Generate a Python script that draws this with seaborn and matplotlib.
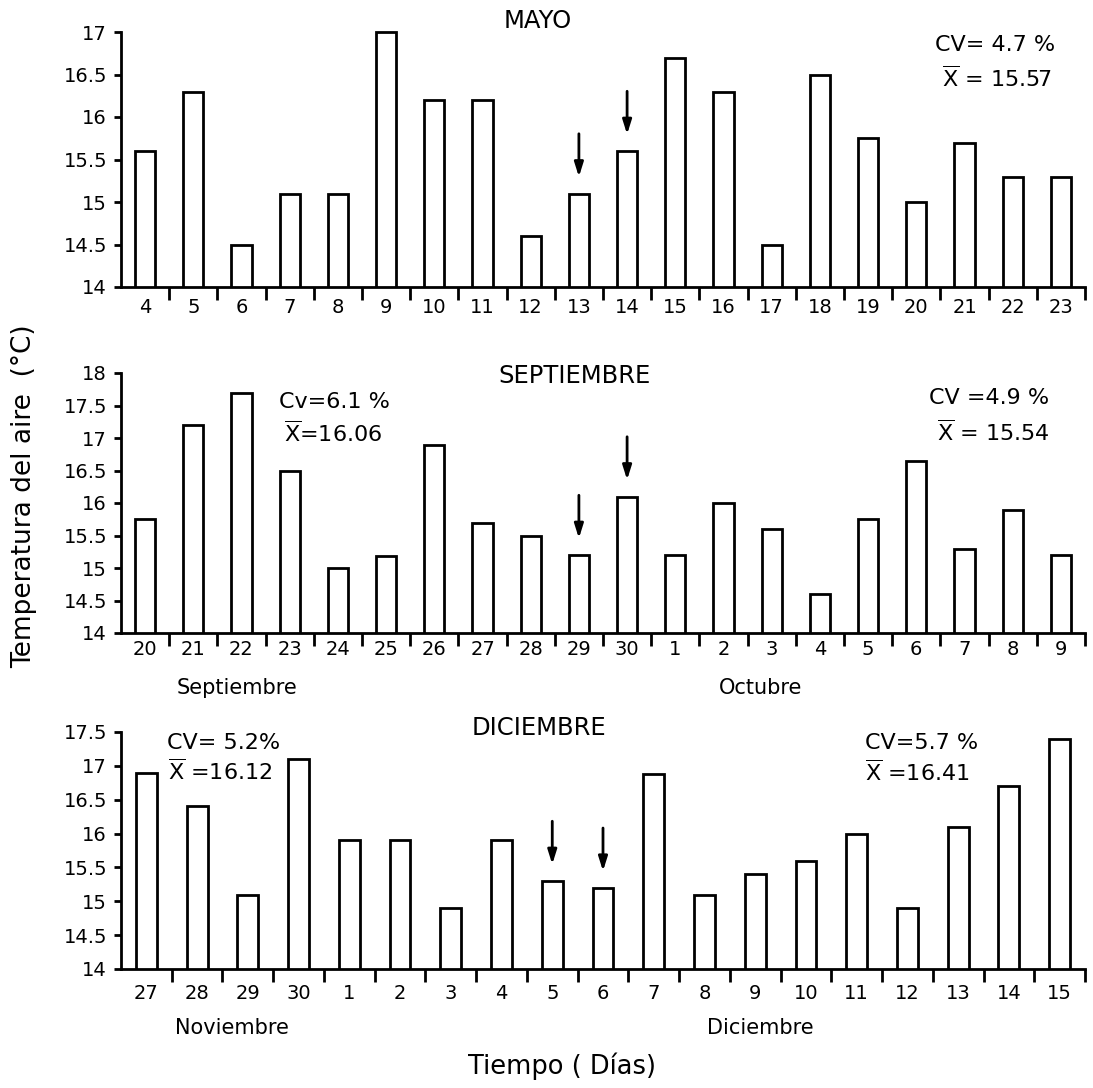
import matplotlib
matplotlib.use("Agg")
import matplotlib.pyplot as plt
from matplotlib.ticker import FixedLocator
import seaborn as sns
import pandas as pd

sns.set_theme(style="ticks")
plt.rcParams['font.family'] = ['DejaVu Sans']
plt.rcParams['mathtext.fontset'] = 'dejavusans'
plt.rcParams['text.color'] = 'black'
plt.rcParams['xtick.color'] = 'black'
plt.rcParams['ytick.color'] = 'black'
plt.rcParams['axes.edgecolor'] = 'black'

# ---------------- data ----------------
mayo_days = ["4", "5", "6", "7", "8", "9", "10", "11", "12", "13",
             "14", "15", "16", "17", "18", "19", "20", "21", "22", "23"]
mayo_temp = [15.6, 16.3, 14.5, 15.1, 15.1, 17.0, 16.2, 16.2, 14.6, 15.1,
             15.6, 16.7, 16.3, 14.5, 16.5, 15.75, 15.0, 15.7, 15.3, 15.3]
mayo_arrows = ["13", "14"]
mayo_yticks = [14, 14.5, 15, 15.5, 16, 16.5, 17]
mayo_yticklabels = ["14", "14.5", "15", "15.5", "16", "16.5", "17"]

sep_days = ["20", "21", "22", "23", "24", "25", "26", "27", "28", "29",
            "30", "1", "2", "3", "4", "5", "6", "7", "8", "9"]
sep_temp = [15.75, 17.2, 17.7, 16.5, 15.0, 15.18, 16.9, 15.7, 15.5, 15.2,
            16.1, 15.2, 16.0, 15.6, 14.6, 15.75, 16.65, 15.3, 15.9, 15.2]
sep_arrows = ["29", "30"]
sep_yticks = [14, 14.5, 15, 15.5, 16, 16.5, 17, 17.5, 18]
sep_yticklabels = ["14", "14.5", "15", "15.5", "16", "16.5", "17", "17.5", "18"]

dic_days = ["27", "28", "29", "30", "1", "2", "3", "4", "5", "6",
            "7", "8", "9", "10", "11", "12", "13", "14", "15"]
dic_temp = [16.9, 16.4, 15.1, 17.1, 15.9, 15.9, 14.9, 15.9, 15.3, 15.2,
            16.88, 15.1, 15.4, 15.6, 16.0, 14.9, 16.1, 16.7, 17.4]
dic_arrows = ["5", "6"]
dic_yticks = [14, 14.5, 15, 15.5, 16, 16.5, 17, 17.5]
dic_yticklabels = ["14", "14.5", "15", "15.5", "16", "16.5", "17", "17.5"]

titles = ["MAYO", "SEPTIEMBRE", "DICIEMBRE"]
stats_left = [None, ("Cv=6.1 %", r"$\overline{\mathrm{X}}$=16.06"),
              ("CV= 5.2%", r"$\overline{\mathrm{X}}$ =16.12")]
stats_right = [("CV= 4.7 %", r"$\overline{\mathrm{X}}$ = 15.57"),
               ("CV =4.9 %", r"$\overline{\mathrm{X}}$ = 15.54"),
               ("CV=5.7 %", r"$\overline{\mathrm{X}}$ =16.41")]
month_labels = [[], [("Septiembre", 237), ("Octubre", 761)],
                [("Noviembre", 232), ("Diciembre", 760)]]

# ---------------- layout (pixels) ----------------
W, H = 1093, 1088
fig = plt.figure(figsize=(W / 100, H / 100), dpi=100)

def fx(x):
    return x / W

def fy(y):
    return 1 - y / H

panels = [
    dict(days=mayo_days, temp=mayo_temp, arrows=mayo_arrows, yt=mayo_yticks,
         ytl=mayo_yticklabels, base=287, top=32, width=0.42, xpad=8,
         title_xy=(538, 21), sl=None, sr=[(995, 45), (997, 78)],
         month_y=None),
    dict(days=sep_days, temp=sep_temp, arrows=sep_arrows, yt=sep_yticks,
         ytl=sep_yticklabels, base=633, top=373, width=0.42, xpad=5,
         title_xy=(575, 376), sl=[(334, 402), (333, 433)],
         sr=[(989, 398), (993, 432)], month_y=688),
    dict(days=dic_days, temp=dic_temp, arrows=dic_arrows, yt=dic_yticks,
         ytl=dic_yticklabels, base=969, top=732, width=0.41, xpad=11,
         title_xy=(539, 728), sl=[(224, 743), (220, 771)],
         sr=[(922, 743), (917, 772)], month_y=1028),
]

LEFT, RIGHT = 121, 1085
LW = 2.0
FS = 14

for k, p in enumerate(panels):
    ylo, yhi = p["yt"][0], p["yt"][-1]
    extra = 0.06
    px_per = (p["base"] - p["top"]) / (yhi - ylo)
    top_px = p["top"] - extra * px_per
    ax = fig.add_axes([fx(LEFT), fy(p["base"]), fx(RIGHT) - fx(LEFT),
                       fy(top_px) - fy(p["base"])])
    df = pd.DataFrame({"dia": p["days"], "temp": p["temp"]})
    sns.barplot(data=df, x="dia", y="temp", order=p["days"], color="white",
                saturation=1, edgecolor="black", linewidth=LW,
                width=p["width"], ax=ax, errorbar=None)
    n = len(p["days"])
    ax.set_xlim(-0.5, n - 0.5)
    ax.set_ylim(ylo, yhi + extra)
    ax.set_facecolor("white")
    sns.despine(ax=ax, top=True, right=True)
    ax.spines["left"].set_bounds(ylo, yhi)
    ax.spines["left"].set_linewidth(LW)
    ax.spines["bottom"].set_linewidth(LW)
    ax.set_yticks(p["yt"])
    ax.set_yticklabels(p["ytl"], fontsize=FS)
    ax.set_xticks(range(n))
    ax.set_xticklabels(p["days"], fontsize=FS)
    ax.xaxis.set_minor_locator(FixedLocator([i + 0.5 for i in range(n)]))
    ax.tick_params(axis="x", which="major", length=0, pad=p["xpad"])
    ax.tick_params(axis="x", which="minor", length=9, width=LW,
                   direction="out")
    ax.tick_params(axis="y", which="major", length=5, width=LW, pad=5,
                   direction="out")
    ax.set_xlabel("")
    ax.set_ylabel("")

    for d in p["arrows"]:
        i = p["days"].index(d)
        v = p["temp"][i]
        ax.annotate("", xy=(i, v), xycoords="data",
                    xytext=(0, 43), textcoords="offset points",
                    arrowprops=dict(arrowstyle="-|>,head_length=0.7,head_width=0.22",
                                    color="black", lw=LW, shrinkA=0,
                                    shrinkB=12))

    tx, ty = p["title_xy"]
    fig.text(fx(tx), fy(ty), titles[k], ha="center", va="center",
             fontsize=17.5)
    if stats_left[k] is not None:
        for (sx, sy), s in zip(p["sl"], stats_left[k]):
            fig.text(fx(sx), fy(sy), s, ha="center", va="center", fontsize=16)
    for (sx, sy), s in zip(p["sr"], stats_right[k]):
        fig.text(fx(sx), fy(sy), s, ha="center", va="center", fontsize=16)
    for name, mx in month_labels[k]:
        fig.text(fx(mx), fy(p["month_y"]), name, ha="center", va="center",
                 fontsize=15)

fig.text(fx(24), fy(496), "Temperatura del aire  (°C)", rotation=90,
         ha="center", va="center", fontsize=19)
fig.text(fx(562), fy(1066), "Tiempo ( Días)", ha="center", va="center",
         fontsize=18.5)

fig.savefig("out.png", dpi=100, facecolor="white")
